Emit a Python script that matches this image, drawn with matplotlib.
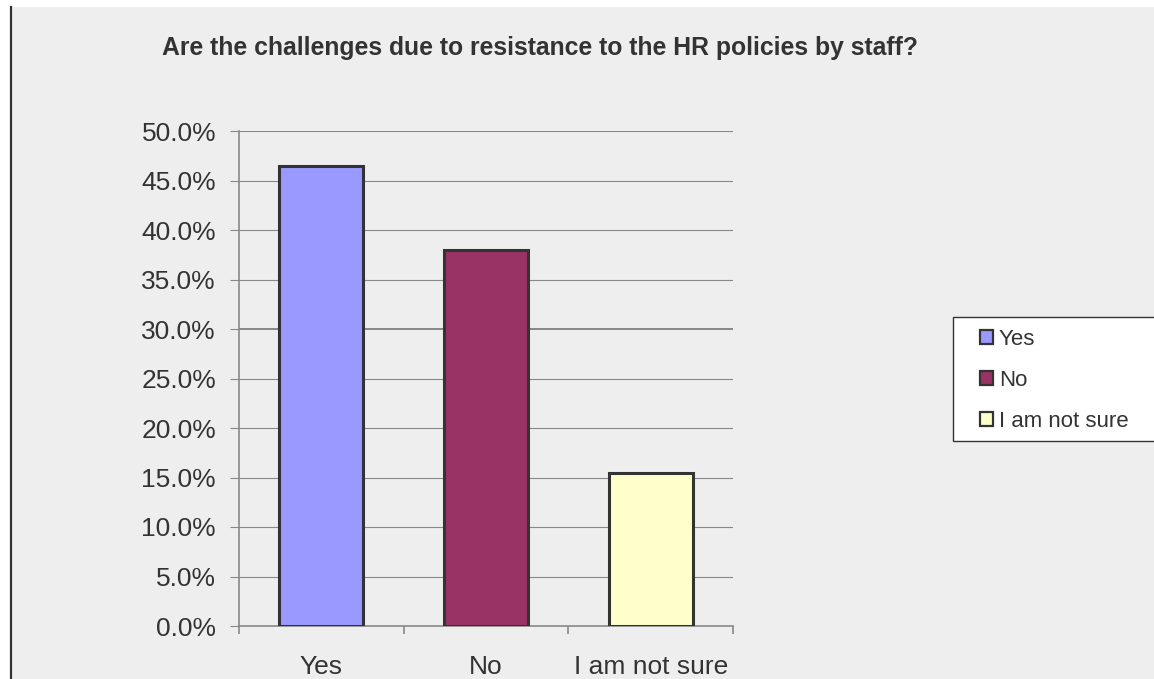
import matplotlib
matplotlib.use("Agg")
from matplotlib import pyplot as plt
from matplotlib.patches import Patch, Rectangle
from matplotlib.lines import Line2D
from matplotlib.ticker import FixedLocator, FuncFormatter

# survey answers (share of respondents, %)
categories = ['Yes', 'No', 'I am not sure']
percentages = [46.5, 38.0, 15.5]
bar_colors = ['#9999FF', '#993366', '#FFFFCC']
y_ticks = [0, 5, 10, 15, 20, 25, 30, 35, 40, 45, 50]

title = 'Are the challenges due to resistance to the HR policies by staff?'


def main():
    plt.rcParams['font.family'] = ['Liberation Sans', 'DejaVu Sans']
    W, H = 1154, 679
    fig = plt.figure(figsize=(W / 100, H / 100), dpi=100)
    fig.patch.set_facecolor('white')

    # chart area background with the dark left border
    fig.patches.append(Rectangle((11 / W, 0), 1, 1 - 7 / H, transform=fig.transFigure,
                                 facecolor='#EEEEEE', edgecolor='none', zorder=-2))
    fig.lines.append(Line2D([11.5 / W, 11.5 / W], [0, 1 - 7 / H], transform=fig.transFigure,
                            color='#333333', lw=1.6, zorder=-1))

    ax = fig.add_axes([239 / W, 1 - 626 / H, (733 - 239) / W, (626 - 131) / H])
    ax.set_facecolor('#EEEEEE')

    x = range(len(categories))
    ax.bar(x, percentages, width=0.51, color=bar_colors, edgecolor='#333333',
           linewidth=2.2, zorder=3)

    ax.set_xlim(-0.5, len(categories) - 0.5)
    ax.set_ylim(0, 50)

    # horizontal gridlines
    for t in y_ticks[1:]:
        ax.axhline(t, color='#888888', lw=1.4 if t == 30 else 0.8, zorder=1)

    ax.yaxis.set_major_locator(FixedLocator(y_ticks))
    ax.yaxis.set_major_formatter(FuncFormatter(lambda v, p: f'{v:.1f}%'))
    ax.tick_params(axis='y', direction='out', length=6.5, width=0.8, color='#888888',
                   labelsize=19, labelcolor='#333333', pad=10)

    ax.set_xticks(list(x))
    ax.set_xticklabels(categories)
    ax.xaxis.set_minor_locator(FixedLocator([-0.5, 0.5, 1.5, 2.5]))
    ax.tick_params(axis='x', which='major', length=0, labelsize=19,
                   labelcolor='#333333', pad=21)
    ax.tick_params(axis='x', which='minor', direction='out', length=6, width=1.2,
                   color='#888888')

    for side in ['top', 'right']:
        ax.spines[side].set_visible(False)
    for side in ['left', 'bottom']:
        ax.spines[side].set_color('#888888')
        ax.spines[side].set_linewidth(1.2)

    fig.text(540 / W, 1 - 48 / H, title, ha='center', va='center', fontsize=17.8,
             fontweight='bold', color='#333333')

    # legend box runs off the right edge
    fig.patches.append(Rectangle((953 / W, 1 - 441 / H), 220 / W, 124 / H,
                                 transform=fig.transFigure, facecolor='white',
                                 edgecolor='#333333', lw=1.0, zorder=2))
    handles = [Patch(facecolor=c, edgecolor='#333333', linewidth=1.6) for c in bar_colors]
    leg = fig.legend(handles, categories, loc='upper left',
                     bbox_to_anchor=(980 / W, 1 - 329 / H), borderaxespad=0,
                     fontsize=16, frameon=False, handlelength=0.6,
                     handleheight=0.6, handletextpad=0.25, borderpad=0,
                     labelspacing=0.9)
    leg.set_zorder(3)
    for txt in leg.get_texts():
        txt.set_color('#333333')

    fig.savefig('out.png', dpi=100, facecolor=fig.get_facecolor())


if __name__ == "__main__":
    main()
